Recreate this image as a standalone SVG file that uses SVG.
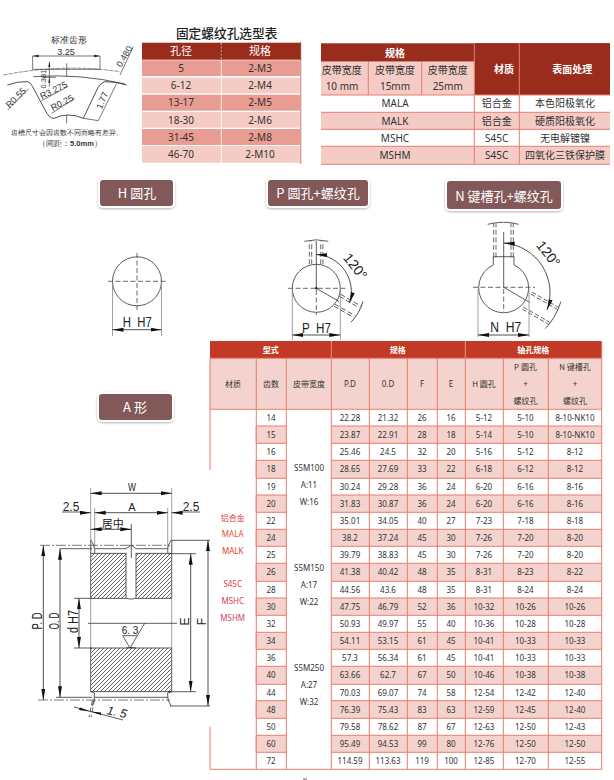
<svg xmlns="http://www.w3.org/2000/svg" xmlns:xlink="http://www.w3.org/1999/xlink" width="614" height="780" viewBox="0 0 614 780">
<style>
text{font-family:"Noto Sans","Noto Sans CJK SC",sans-serif;fill:#333;text-anchor:middle}
.cj{font-family:"Noto Sans CJK SC","Noto Sans",sans-serif}
.t8 text{font-size:8px}
.t8 .h{fill:#fff;font-weight:700}
.t10 text{font-size:10px}
.tw{fill:#fff;font-weight:700}
.btn rect{fill:#835858;stroke:#fff;stroke-width:2;filter:url(#sh)}
.btn text{fill:#fff;font-size:13px;font-family:"Noto Sans CJK SC",sans-serif}
.l{fill:none;stroke:#333;stroke-width:.8}
.g{fill:none;stroke:#888;stroke-width:.8}
.d{fill:none;stroke:#444;stroke-width:.8;stroke-dasharray:5 2.5}
.dc{fill:none;stroke:#444;stroke-width:.7;stroke-dasharray:10 2 2 2}
.a{fill:none;stroke:#222;stroke-width:.8;marker-end:url(#ar)}
.aa{fill:none;stroke:#222;stroke-width:.8;marker-start:url(#ar);marker-end:url(#ar)}
.dm{font-family:"Liberation Sans",sans-serif;font-size:14px;fill:#222}
.gr{stroke:#E87D6E;stroke-width:1;fill:none}
.tp text{font-family:"Liberation Sans",sans-serif;fill:#333}
</style>
<defs>
<marker id="ar" markerUnits="userSpaceOnUse" markerWidth="12" markerHeight="5" refX="11" refY="2" orient="auto-start-reverse"><path d="M0 0L11 2L0 4z" fill="#111"/></marker>
<pattern id="ht" patternUnits="userSpaceOnUse" width="4" height="4"><path d="M-1 1L1 -1M0 4L4 0M3 5L5 3" stroke="#333" stroke-width=".75"/></pattern>
<filter id="sh" x="-10%" y="-20%" width="120%" height="150%"><feDropShadow dx="0" dy="1" stdDeviation="1.200" flood-color="#000" flood-opacity=".3"/></filter>
<g id="hp"><path class="d" d="M-7 -24V-47M-4.600 -24V-47M4.400 -24V-47M6.600 -24V-47"/><path class="l" d="M-12 -47Q0 -50 12 -47"/></g>
<g id="hn"><path class="d" d="M-10 -30V-64M-7.700 -30V-64M7.300 -30V-64M9.600 -30V-64"/><path class="l" d="M-16 -63Q0 -67 15 -63"/></g>
</defs>

<g id="tooth-profile" class="tp">
<g transform="translate(0 20) scale(.3333)">
<path class="dc" style="stroke-width:2" d="M10 165Q190 130 360 155"/>
<path class="l" style="stroke-width:2.400" d="M100 170Q240 160 375 192"/>
<path class="l" style="stroke-width:2.600" d="M22 195Q55 183 82 185Q92 187 98 200L135 270Q148 296 162 295Q205 275 250 295L288 215Q298 190 315 185Q350 185 380 195"/>
<path class="l" style="stroke-width:2" d="M98 108V148M300 108V148M98 108H300M98 148H300M148 125V200M128 172H168M200 130V170M200 285V310M400 80L360 165M350 190L295 302M250 295L295 302M125 242L205 199M155 280L225 235M23 270L86 206"/>
<path d="M98 108l18 -4v8zM300 108l-18 -4v8zM148 125l-3 16h6zM148 172l-3 16h6z" fill="#222"/>
</g>
<text x="69" y="42.500" class="cj" style="font-size:9px">标准齿形</text>
<text x="66" y="55" style="font-size:9px">3.25</text>
<text transform="translate(127 58) rotate(-60)" style="font-size:9px">0.480</text>
<text transform="translate(46 79) rotate(-90)" style="font-size:7.500px">0.381</text>
<text transform="translate(55 93) rotate(-27)" style="font-size:9px">R3.275</text>
<text transform="translate(63.500 105.500) rotate(-27)" style="font-size:9px">R0.25</text>
<text transform="translate(18 100) rotate(-45)" style="font-size:9px">R0.55</text>
<text transform="translate(105 101.500) rotate(-68)" style="font-size:9px">1.77</text>
<text x="67" y="135" class="cj" style="font-size:7.200px">齿槽尺寸会因齿数不同而略有差异。</text>
<text x="70" y="146" class="cj" style="font-size:7.500px">（间距：<tspan font-weight="700">5.0mm</tspan>）</text>
</g>

<g id="thread-table" class="t10">
<text x="226.700" y="37.500" class="cj" style="font-size:12.700px;font-weight:500;fill:#222">固定螺纹孔选型表</text>
<rect x="142" y="42.700" width="159" height="17" fill="#9A2C1E"/>
<path d="M221.300 43V59" stroke="#f2d0c8" stroke-width=".7" stroke-dasharray="2 1.500"/>
<path d="M300.800 42V164" stroke="#b55a4c" stroke-width=".8"/>
<g fill="#E99C91"><rect x="142" y="60.300" width="158" height="15.700"/><rect x="142" y="94.700" width="158" height="16"/><rect x="142" y="129" width="158" height="16"/></g>
<g fill="#F4CBC5"><rect x="142" y="77.700" width="158" height="15.600"/><rect x="142" y="112" width="158" height="15.700"/><rect x="142" y="146" width="158" height="16.700"/></g>
<path d="M221.300 60V163" stroke="#fff" stroke-width=".8"/>
<text x="181" y="55" class="tw cj" style="font-size:11px;font-weight:400">孔径</text>
<text x="260" y="55" class="tw cj" style="font-size:11px;font-weight:400">规格</text>
<text x="181" y="72">5</text><text x="260" y="72">2-M3</text>
<text x="181" y="89">6-12</text><text x="260" y="89">2-M4</text>
<text x="181" y="106">13-17</text><text x="260" y="106">2-M5</text>
<text x="181" y="123.500">18-30</text><text x="260" y="123.500">2-M6</text>
<text x="181" y="140.500">31-45</text><text x="260" y="140.500">2-M8</text>
<text x="181" y="157.500">46-70</text><text x="260" y="157.500">2-M10</text>
</g>

<g id="material-table" class="t10">
<rect x="321" y="43.300" width="289" height="18.400" fill="#9A2C1E"/>
<rect x="474.300" y="43.300" width="135.700" height="51.700" fill="#9A2C1E"/>
<rect x="321" y="61.700" width="153.300" height="33.300" fill="#F4CBC5"/>
<rect x="321" y="112.300" width="289" height="17" fill="#F4CBC5"/>
<rect x="321" y="146.300" width="289" height="18" fill="#F4CBC5"/>
<path class="gr" d="M474.300 43.300V164.300M519.300 43.300V164.300M368.300 62V95M421.700 62V95M321 95H610M321 112.300H610M321 129.300H610M321 146.300H610M321 164.300H610"/>
<text x="395" y="56.500" class="tw cj">规格</text>
<text x="504" y="73" class="tw cj">材质</text>
<text x="572.300" y="73" class="tw cj">表面处理</text>
<g class="cj"><text x="341.700" y="74" class="cj">皮带宽度</text><text x="395" y="74" class="cj">皮带宽度</text><text x="447.700" y="74" class="cj">皮带宽度</text></g>
<text x="342" y="90">10 mm</text><text x="395" y="90">15mm</text><text x="447.700" y="90">25mm</text>
<text x="395" y="107">MALA</text><text x="496.700" y="107" class="cj">铝合金</text><text x="565" y="107" class="cj">本色阳极氧化</text>
<text x="395" y="124.500">MALK</text><text x="496.700" y="124.500" class="cj">铝合金</text><text x="565" y="124.500" class="cj">硬质阳极氧化</text>
<text x="395" y="141.500">MSHC</text><text x="496.700" y="141.500">S45C</text><text x="565" y="141.500" class="cj">无电解镀镍</text>
<text x="395" y="158.500">MSHM</text><text x="496.700" y="158.500">S45C</text><text x="565" y="158.500" class="cj">四氧化三铁保护膜</text>
</g>

<g id="btn-h" class="btn"><rect x="99" y="179" width="75" height="28" rx="4"/><text x="137" y="198">H 圆孔</text></g>
<g id="btn-p" class="btn"><rect x="267" y="179" width="102" height="28" rx="4"/><text x="318" y="198">P 圆孔+螺纹孔</text></g>
<g id="btn-n" class="btn"><rect x="446" y="180" width="116" height="30" rx="4"/><text x="504" y="201">N 键槽孔+螺纹孔</text></g>
<g id="btn-a" class="btn"><rect x="98" y="393" width="75" height="28" rx="4"/><text x="135" y="412">A 形</text></g>

<g id="bore-h">
<circle cx="137" cy="281.300" r="24.500" class="l"/>
<path class="d" d="M137 253V310M108 281.300H166"/>
<path class="g" d="M112.500 282V336M161.500 282V336"/>
<path class="aa" d="M112.500 329.700H161.500"/>
<text x="137.300" y="327" class="dm" xml:space="preserve" textLength="29" lengthAdjust="spacingAndGlyphs">H  H7</text>
</g>

<g id="bore-p">
<circle cx="316.300" cy="288.300" r="24" class="l"/>
<path class="d" d="M288 288.300H346M316.300 290V315"/>
<path class="l" d="M316.300 288.300V241"/>
<path class="l" d="M316.300 288.300L339 301.400"/>
<circle cx="316.300" cy="288.300" r="1.200" fill="#222"/>
<use xlink:href="#hp" href="#hp" transform="translate(316.300 288.300)"/>
<use xlink:href="#hp" href="#hp" transform="translate(316.300 288.300) rotate(120)"/>
<path class="aa" d="M316.300 254.500A37 37 0 0 1 349.500 303"/>
<path class="g" d="M292.300 290V340M340.300 290V340"/>
<path class="aa" d="M292.300 335H340.300"/>
<text x="316.500" y="332.500" class="dm" xml:space="preserve" textLength="29" lengthAdjust="spacingAndGlyphs">P  H7</text>
<text transform="translate(351.500 269.500) rotate(52)" style="font-family:'Liberation Sans',sans-serif;font-size:14px;fill:#222">120°</text>
</g>

<g id="bore-n">
<path class="l" d="M514 265V256.700H493.300V265A25 25 0 1 0 514 265Z"/>
<path class="d" d="M473 287.300H535M503.700 289V312"/>
<path class="l" d="M503.700 287.300V232M503.700 287.300L530 302.500"/>
<use xlink:href="#hn" href="#hn" transform="translate(503.700 287.300)"/>
<use xlink:href="#hn" href="#hn" transform="translate(503.700 287.300) rotate(120) scale(1 .9)"/>
<path class="aa" d="M503.700 243A50 50 0 0 1 547 310"/>
<path class="g" d="M478 289V337M529 289V337"/>
<path class="aa" d="M478 335H529"/>
<text x="505.700" y="332" class="dm" xml:space="preserve" textLength="31" lengthAdjust="spacingAndGlyphs">N  H7</text>
<text transform="translate(544.500 256.800) rotate(52)" style="font-family:'Liberation Sans',sans-serif;font-size:14px;fill:#222">120°</text>
</g>

<g id="pulley">
<rect x="90.700" y="553.300" width="35.300" height="45" fill="url(#ht)" stroke="#333" stroke-width=".8"/>
<rect x="136" y="553.300" width="35.700" height="45" fill="url(#ht)" stroke="#333" stroke-width=".8"/>
<rect x="90.700" y="648" width="81" height="43.700" fill="url(#ht)" stroke="#333" stroke-width=".8"/>
<path class="l" d="M90.700 553.300V540Q95 545 94.700 553M171.700 553.300V540Q167 545 167.700 553M94 548.700H126L131.300 545L136 548.700H168M90.700 691.700L94.500 693Q95 700 92 706M171.700 691.700L167.500 693Q167 700 171 706M94 697.300H168M126 598.300Q131 600 136 598.300M126 648Q131 647 136 648"/>
<path class="g" d="M90.700 488V691M171.700 488V691M94.700 508V553M167.700 508V553"/>
<path class="dc" d="M40 545.300H170"/>
<path class="dc" d="M38 700H170"/>
<path class="l" d="M131.300 524V558M60 548.700H92M74 598.300H92M74 648H92M171 540.300H210M168 553.700H196M168 691.700H196M56 697.300H92M170 706H210M88 623.300H177"/>
<path class="aa" d="M90.700 493.300H171.700"/>
<path class="a" d="M80 512.700H90.700"/>
<path class="aa" d="M94.700 512.700H167.700"/>
<path class="a" d="M182 512.700H171.700"/>
<path class="l" d="M62 512H80M182 512H200"/>
<path class="aa" d="M90.700 529.300H131.300"/>
<path class="aa" d="M43.300 545.300V700"/>
<path class="aa" d="M60 548.700V697.300"/>
<path class="aa" d="M79 598.300V648"/>
<path class="aa" d="M190.700 553.700V691.700"/>
<path class="aa" d="M208 540.300V706"/>
<path class="l" d="M122.700 635.700L130 648L137.300 635.700H122.700M137.300 635.700L144.700 623.300"/>
<path class="l" d="M74 707L123 720"/>
<path class="d" d="M92.500 700L89 717M94.500 700L91 717"/>
<path d="M90 711.500L80 707.500L79 710zM90.500 711.500L101 715L101 712.500z" fill="#111"/>
<text x="132" y="491" class="dm" style="font-size:11px" textLength="8" lengthAdjust="spacingAndGlyphs">W</text>
<text x="132" y="511" class="dm" style="font-size:11px">A</text>
<text x="71" y="510.700" class="dm" style="font-size:12px">2.5</text>
<text x="191" y="510.700" class="dm" style="font-size:12px">2.5</text>
<text x="112.700" y="528" class="cj" style="font-size:11px;fill:#222">居中</text>
<text transform="translate(42 621) rotate(-90)" class="dm" textLength="17" lengthAdjust="spacingAndGlyphs">P. D</text>
<text transform="translate(59 621) rotate(-90)" class="dm" textLength="17" lengthAdjust="spacingAndGlyphs">O. D</text>
<text transform="translate(78 621.500) rotate(-90)" class="dm" textLength="23" lengthAdjust="spacingAndGlyphs">d H7</text>
<text transform="translate(189 621.500) rotate(-90)" class="dm" style="font-size:12px">E</text>
<text transform="translate(206 621.500) rotate(-90)" class="dm" style="font-size:12px">F</text>
<text x="130" y="634" class="dm" style="font-size:10px">6. 3</text>
<text transform="translate(116 716) rotate(12)" class="dm" style="font-size:12px;font-style:italic">1. 5</text>
</g>

<g id="spec-table" class="t8">
<rect x="210" y="341" width="392" height="17.300" fill="#C23A26"/>
<rect x="210" y="358.300" width="392" height="51" fill="#F4D3CE"/>
<g fill="#F4D3CE">
<rect x="255" y="426" width="32" height="17.300"/><rect x="255" y="460.300" width="32" height="18"/><rect x="255" y="495" width="32" height="17.300"/><rect x="255" y="529.300" width="32" height="17"/><rect x="255" y="563.300" width="32" height="18"/><rect x="255" y="598" width="32" height="17.300"/><rect x="255" y="632.300" width="32" height="17"/><rect x="255" y="666.300" width="32" height="18"/><rect x="255" y="700.700" width="32" height="17.600"/><rect x="255" y="735.300" width="32" height="17"/>
<rect x="331.300" y="426" width="270.400" height="17.300"/><rect x="331.300" y="460.300" width="270.400" height="18"/><rect x="331.300" y="495" width="270.400" height="17.300"/><rect x="331.300" y="529.300" width="270.400" height="17"/><rect x="331.300" y="563.300" width="270.400" height="18"/><rect x="331.300" y="598" width="270.400" height="17.300"/><rect x="331.300" y="632.300" width="270.400" height="17"/><rect x="331.300" y="666.300" width="270.400" height="18"/><rect x="331.300" y="700.700" width="270.400" height="17.600"/><rect x="331.300" y="735.300" width="270.400" height="17"/>
</g>
<path stroke="#f0a99e" stroke-width=".8" d="M331.300 341V358M465.300 341V358"/>
<path class="gr" d="M210 358.300V470M210 726.700V769.300M256.300 358.300V769.300M286.300 358.300V769.300M331.300 358.300V769.300M369.300 358.300V769.300M407.300 358.300V769.300M437.300 358.300V769.300M465.300 358.300V769.300M503.300 358.300V769.300M548.300 358.300V769.300M601.700 341V769.300M210 358.300H602M210 409.300H602M210 769.300H602"/>
<path class="gr" d="M256.300 426H286.300M331.300 426H602M256.300 443.300H286.300M331.300 443.300H602M256.300 460.300H286.300M331.300 460.300H602M256.300 478.300H286.300M331.300 478.300H602M256.300 495H286.300M331.300 495H602M256.300 512.300H286.300M331.300 512.300H602M256.300 529.300H286.300M331.300 529.300H602M256.300 546.300H286.300M331.300 546.300H602M256.300 563.300H286.300M331.300 563.300H602M256.300 581.300H286.300M331.300 581.300H602M256.300 598H286.300M331.300 598H602M256.300 615.300H286.300M331.300 615.300H602M256.300 632.300H286.300M331.300 632.300H602M256.300 649.300H286.300M331.300 649.300H602M256.300 666.300H286.300M331.300 666.300H602M256.300 684.300H286.300M331.300 684.300H602M256.300 700.700H286.300M331.300 700.700H602M256.300 718.300H286.300M331.300 718.300H602M256.300 735.300H286.300M331.300 735.300H602M256.300 752.300H286.300M331.300 752.300H602"/>
<g class="cj">
<text x="270.700" y="353" class="h cj">型式</text><text x="397.700" y="353" class="h cj">规格</text><text x="533.300" y="353" class="h cj">轴孔规格</text>
<text x="233" y="387" class="cj">材质</text><text x="271" y="387" class="cj">齿数</text><text x="309" y="387" class="cj">皮带宽度</text>
<text x="350" y="387">P.D</text><text x="388" y="387">0.D</text><text x="422" y="387">F</text><text x="451" y="387">E</text><text x="484" y="387" class="cj">H 圆孔</text>
<text x="525.500" y="370" class="cj">P 圆孔</text><text x="525.500" y="387">+</text><text x="525.500" y="404" class="cj">螺纹孔</text>
<text x="575" y="370" class="cj">N 键槽孔</text><text x="575" y="387">+</text><text x="575" y="404" class="cj">螺纹孔</text>
</g>
<g>
<text x="232.700" y="521" class="cj" style="fill:#e0393a">铝合金</text><text x="232.700" y="537" style="fill:#e8502a">MALA</text><text x="232.700" y="554" style="fill:#e2452f">MALK</text>
<text x="232.700" y="587" style="fill:#e0393a">S45C</text><text x="232.700" y="604" style="fill:#dc3a55">MSHC</text><text x="232.700" y="621" style="fill:#d63b62">MSHM</text>
<text x="309" y="471">S5M100</text><text x="309" y="487.500">A:11</text><text x="309" y="504.500">W:16</text>
<text x="309" y="571">S5M150</text><text x="309" y="587.500">A:17</text><text x="309" y="604.500">W:22</text>
<text x="309" y="670.500">S5M250</text><text x="309" y="687.500">A:27</text><text x="309" y="704.500">W:32</text>
</g>
<g transform="translate(0 420.700)"><text x="271">14</text><text x="350">22.28</text><text x="388">21.32</text><text x="422">26</text><text x="451">16</text><text x="484">5-12</text><text x="525.500">5-10</text><text x="575">8-10-NK10</text></g>
<g transform="translate(0 437.700)"><text x="271">15</text><text x="350">23.87</text><text x="388">22.91</text><text x="422">28</text><text x="451">18</text><text x="484">5-14</text><text x="525.500">5-10</text><text x="575">8-10-NK10</text></g>
<g transform="translate(0 454.800)"><text x="271">16</text><text x="350">25.46</text><text x="388">24.5</text><text x="422">32</text><text x="451">20</text><text x="484">5-16</text><text x="525.500">5-12</text><text x="575">8-12</text></g>
<g transform="translate(0 472.300)"><text x="271">18</text><text x="350">28.65</text><text x="388">27.69</text><text x="422">33</text><text x="451">22</text><text x="484">6-18</text><text x="525.500">6-12</text><text x="575">8-12</text></g>
<g transform="translate(0 489.700)"><text x="271">19</text><text x="350">30.24</text><text x="388">29.28</text><text x="422">36</text><text x="451">24</text><text x="484">6-20</text><text x="525.500">6-16</text><text x="575">8-16</text></g>
<g transform="translate(0 506.700)"><text x="271">20</text><text x="350">31.83</text><text x="388">30.87</text><text x="422">36</text><text x="451">24</text><text x="484">6-20</text><text x="525.500">6-16</text><text x="575">8-16</text></g>
<g transform="translate(0 523.800)"><text x="271">22</text><text x="350">35.01</text><text x="388">34.05</text><text x="422">40</text><text x="451">27</text><text x="484">7-23</text><text x="525.500">7-18</text><text x="575">8-18</text></g>
<g transform="translate(0 540.800)"><text x="271">24</text><text x="350">38.2</text><text x="388">37.24</text><text x="422">45</text><text x="451">30</text><text x="484">7-26</text><text x="525.500">7-20</text><text x="575">8-20</text></g>
<g transform="translate(0 557.800)"><text x="271">25</text><text x="350">39.79</text><text x="388">38.83</text><text x="422">45</text><text x="451">30</text><text x="484">7-26</text><text x="525.500">7-20</text><text x="575">8-20</text></g>
<g transform="translate(0 575.300)"><text x="271">26</text><text x="350">41.38</text><text x="388">40.42</text><text x="422">48</text><text x="451">35</text><text x="484">8-31</text><text x="525.500">8-23</text><text x="575">8-22</text></g>
<g transform="translate(0 592.700)"><text x="271">28</text><text x="350">44.56</text><text x="388">43.6</text><text x="422">48</text><text x="451">35</text><text x="484">8-31</text><text x="525.500">8-24</text><text x="575">8-24</text></g>
<g transform="translate(0 609.700)"><text x="271">30</text><text x="350">47.75</text><text x="388">46.79</text><text x="422">52</text><text x="451">36</text><text x="484">10-32</text><text x="525.500">10-26</text><text x="575">10-26</text></g>
<g transform="translate(0 626.800)"><text x="271">32</text><text x="350">50.93</text><text x="388">49.97</text><text x="422">55</text><text x="451">40</text><text x="484">10-36</text><text x="525.500">10-28</text><text x="575">10-28</text></g>
<g transform="translate(0 643.800)"><text x="271">34</text><text x="350">54.11</text><text x="388">53.15</text><text x="422">61</text><text x="451">45</text><text x="484">10-41</text><text x="525.500">10-33</text><text x="575">10-33</text></g>
<g transform="translate(0 660.800)"><text x="271">36</text><text x="350">57.3</text><text x="388">56.34</text><text x="422">61</text><text x="451">45</text><text x="484">10-41</text><text x="525.500">10-33</text><text x="575">10-33</text></g>
<g transform="translate(0 678.300)"><text x="271">40</text><text x="350">63.66</text><text x="388">62.7</text><text x="422">67</text><text x="451">50</text><text x="484">10-46</text><text x="525.500">10-38</text><text x="575">10-38</text></g>
<g transform="translate(0 695.500)"><text x="271">44</text><text x="350">70.03</text><text x="388">69.07</text><text x="422">74</text><text x="451">58</text><text x="484">12-54</text><text x="525.500">12-42</text><text x="575">12-40</text></g>
<g transform="translate(0 712.500)"><text x="271">48</text><text x="350">76.39</text><text x="388">75.43</text><text x="422">83</text><text x="451">63</text><text x="484">12-59</text><text x="525.500">12-45</text><text x="575">12-40</text></g>
<g transform="translate(0 729.800)"><text x="271">50</text><text x="350">79.58</text><text x="388">78.62</text><text x="422">87</text><text x="451">67</text><text x="484">12-63</text><text x="525.500">12-50</text><text x="575">12-43</text></g>
<g transform="translate(0 746.800)"><text x="271">60</text><text x="350">95.49</text><text x="388">94.53</text><text x="422">99</text><text x="451">80</text><text x="484">12-76</text><text x="525.500">12-50</text><text x="575">12-50</text></g>
<g transform="translate(0 763.800)"><text x="271">72</text><text x="350">114.59</text><text x="388">113.63</text><text x="422">119</text><text x="451">100</text><text x="484">12-85</text><text x="525.500">12-70</text><text x="575">12-55</text></g>
</g>
<path id="edge-mark" d="M303 779H307" stroke="#666" stroke-width="1"/>
</svg>
